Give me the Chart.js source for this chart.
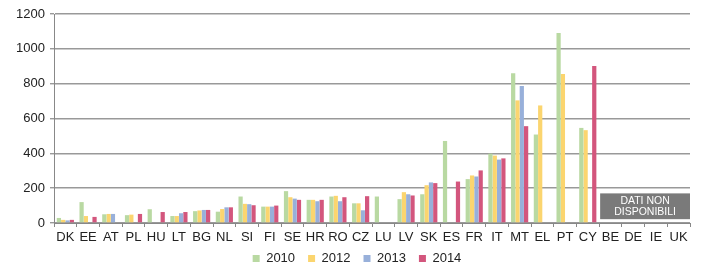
<!DOCTYPE html>
<html>
<head>
<meta charset="utf-8">
<script src="https://cdn.jsdelivr.net/npm/chart.js@4"></script>
<style>
html,body{margin:0;padding:0;background:#fff;}
#wrap{width:706px;height:271px;position:relative;}
</style>
</head>
<body>
<div id="wrap"><canvas id="c" width="706" height="271"></canvas></div>
<script>
const categories = ["DK","EE","AT","PL","HU","LT","BG","NL","SI","FI","SE","HR","RO","CZ","LU","LV","SK","ES","FR","IT","MT","EL","PT","CY","BE","DE","IE","UK"];
const seriesLabels = ["2010","2012","2013","2014"];
const v2010 = [29,120,50,45,79,40,68,65,152,94,183,133,152,113,152,137,165,471,252,398,860,508,1091,546,null,null,null,null];
const v2012 = [18,40,52,48,null,40,72,80,110,94,148,133,156,113,null,177,217,null,273,387,704,675,856,533,null,null,null,null];
const v2013 = [15,null,52,null,null,56,75,90,108,94,140,125,125,73,null,165,233,null,267,364,787,null,null,null,null,null,null,null];
const v2014 = [18,35,null,52,63,63,75,90,102,100,133,133,148,154,null,158,229,238,302,371,556,null,null,902,null,null,null,null];
const yTicks = [0,200,400,600,800,1000,1200];
const colors = ["#b9d9a2","#fbd56f","#98b0da","#d3567d"];
const noteLines = ["DATI NON","DISPONIBILI"];
const FONT = "'Liberation Sans', Arial, sans-serif";

const notePlugin = {
  id:'note',
  afterInit(chart){
    const lg = chart.legend;
    if (lg) {
      const orig = lg.fit;
      lg.fit = function(){ orig.call(this); this.height = 24; };
    }
  },
  beforeDraw(chart){
    const lg = chart.legend;
    if (lg && !lg._shifted) {
      const t = chart.chartArea.bottom + 16;
      const h = lg.bottom - lg.top;
      lg.top = t; lg.bottom = t + h;
      lg.left += 12; lg.right += 12;
      lg._shifted = true;
    }
  },
  afterDatasetsDraw(chart){
    const {ctx, scales:{x,y}, chartArea} = chart;
    const half = (x.getPixelForValue(1)-x.getPixelForValue(0))/2;
    const left = x.getPixelForValue(categories.indexOf("BE")) - half + 1;
    const right = chartArea.right;
    const top = y.getPixelForValue(170);
    const bottom = y.getPixelForValue(22);
    ctx.save();
    ctx.fillStyle = "#7a7a7a";
    ctx.fillRect(left, top, right-left, bottom-top);
    ctx.fillStyle = "#ffffff";
    ctx.font = "10.5px " + FONT;
    ctx.textAlign = "center";
    ctx.textBaseline = "middle";
    const cx = (left+right)/2;
    ctx.fillText(noteLines[0], cx, top + (bottom-top)*0.3);
    ctx.fillText(noteLines[1], cx, top + (bottom-top)*0.73);
    ctx.restore();
  }
};

const data = {
  labels: categories,
  datasets: [v2010,v2012,v2013,v2014].map((d,i)=>({
    label: seriesLabels[i],
    data: d,
    backgroundColor: colors[i],
    borderWidth: 0,
    categoryPercentage: 0.76,
    barPercentage: 0.98
  }))
};

new Chart(document.getElementById('c'), {
  type:'bar',
  data,
  plugins:[notePlugin],
  options:{
    responsive:false,
    animation:false,
    layout:{padding:{top:14,right:16,left:0,bottom:0}},
    plugins:{
      legend:{
        position:'bottom',
        labels:{
          boxWidth:7, boxHeight:7,
          padding:13,
          color:'#222',
          font:{family:FONT, size:13}
        }
      },
      tooltip:{enabled:false}
    },
    scales:{
      x:{
        grid:{display:true, drawOnChartArea:false, drawTicks:true, tickLength:4, color:'#888', offset:true},
        border:{display:true, color:'#888', width:1},
        ticks:{color:'#222', font:{family:FONT, size:13}, maxRotation:0, autoSkip:false, padding:3},
        afterFit(s){ s.height = 24; }
      },
      y:{
        min:0, max:1200,
        afterBuildTicks(s){ s.ticks = yTicks.map(v=>({value:v})); },
        grid:{color:'#999', lineWidth:1.4, drawTicks:true, tickLength:4},
        border:{display:true, color:'#888', width:1},
        ticks:{color:'#222', font:{family:FONT, size:13}, padding:5, callback:(v)=>String(v)},
        afterFit(s){ s.width = 54; }
      }
    }
  }
});
</script>
</body>
</html>
